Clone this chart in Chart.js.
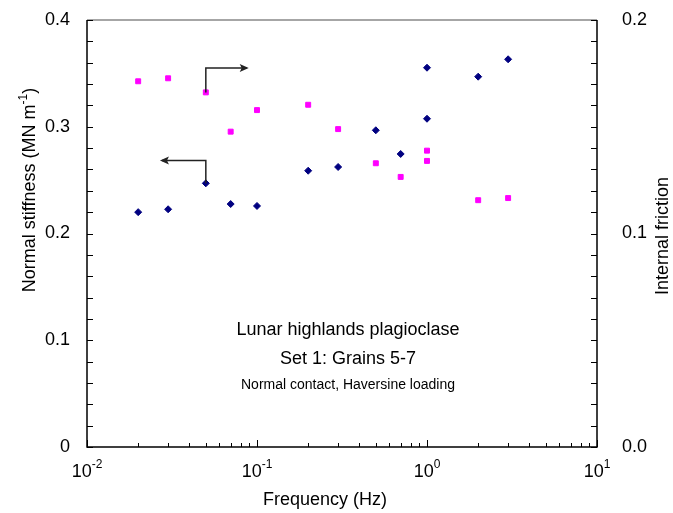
<!DOCTYPE html>
<html>
<head>
<meta charset="utf-8">
<script src="https://cdn.jsdelivr.net/npm/chart.js@4.4.0/dist/chart.umd.min.js"></script>
<style>
  html, body { margin: 0; padding: 0; background: #fff; }
  #wrap { width: 673px; height: 513px; position: relative; }
</style>
</head>
<body>
<div id="wrap"><canvas id="chart"></canvas></div>
<script>
// frequency (Hz) for each measurement
const freqStiff = [0.02, 0.03, 0.05, 0.07, 0.1, 0.2, 0.3, 0.5, 0.7, 1, 1, 2, 3];
const stiffness = [0.220, 0.2227, 0.247, 0.2276, 0.2258, 0.2588, 0.2623, 0.2967, 0.2745, 0.3553, 0.3075, 0.3469, 0.3632];

const freqFric = [0.02, 0.03, 0.05, 0.07, 0.1, 0.2, 0.3, 0.5, 0.7, 1, 1, 2, 3];
const friction = [0.1713, 0.1727, 0.1661, 0.1477, 0.1578, 0.1603, 0.1489, 0.1329, 0.1265, 0.1388, 0.1340, 0.1156, 0.1166];

const leftTicks = ['0', '0.1', '0.2', '0.3', '0.4'];
const rightTicks = ['0.0', '0.1', '0.2'];
const xExponents = [-2, -1, 0, 1];

const noteLines = ['Lunar highlands plagioclase', 'Set 1: Grains 5-7', 'Normal contact, Haversine loading'];

// arrows telling which axis each series belongs to: [x0, yStart, yTurn, xEnd, axis]
const arrows = [
  [0.05, 0.1661, 0.1775, 0.087, 'y2'],
  [0.05, 0.247, 0.2685, 0.0276, 'y']
];

function toPoints(xs, ys) {
  return xs.map((x, i) => ({ x: x, y: ys[i] }));
}

const FONT = '"Liberation Sans", Arial, sans-serif';

const axisPlugin = {
  id: 'axisDecor',
  afterDraw(chart) {
    const ctx = chart.ctx;
    const a = chart.chartArea;
    const sx = chart.scales.x, sy = chart.scales.y, sy2 = chart.scales.y2;
    ctx.save();

    // frame
    ctx.lineWidth = 1.5;
    ctx.strokeStyle = '#888';
    ctx.beginPath();
    ctx.moveTo(a.left, a.top); ctx.lineTo(a.right, a.top);
    ctx.stroke();
    ctx.strokeStyle = '#000';
    ctx.beginPath();
    ctx.moveTo(a.left, a.top); ctx.lineTo(a.left, a.bottom); ctx.lineTo(a.right, a.bottom); ctx.lineTo(a.right, a.top);
    ctx.stroke();

    // inward ticks
    ctx.lineWidth = 1;
    ctx.beginPath();
    for (let i = 0; i <= 20; i++) {
      const py = Math.round(sy.getPixelForValue(i * 0.02)) + 0.5;
      ctx.moveTo(a.left, py); ctx.lineTo(a.left + 6, py);
    }
    for (let i = 0; i <= 20; i++) {
      const py = Math.round(sy2.getPixelForValue(i * 0.01)) + 0.5;
      ctx.moveTo(a.right, py); ctx.lineTo(a.right - 6, py);
    }
    for (let e = -2; e < 1; e++) {
      for (let m = 1; m <= 10; m++) {
        const px = Math.round(sx.getPixelForValue(m * Math.pow(10, e))) + 0.5;
        const len = (m === 1 || m === 10) ? 7 : 4;
        ctx.moveTo(px, a.bottom); ctx.lineTo(px, a.bottom - len);
      }
    }
    ctx.stroke();

    // tick labels
    ctx.fillStyle = '#000';
    ctx.font = '18px ' + FONT;
    ctx.textBaseline = 'middle';
    ctx.textAlign = 'right';
    leftTicks.forEach(t => ctx.fillText(t, a.left - 17, sy.getPixelForValue(parseFloat(t))));
    ctx.textAlign = 'left';
    rightTicks.forEach(t => ctx.fillText(t, a.right + 25, sy2.getPixelForValue(parseFloat(t))));

    xExponents.forEach(e => {
      const px = sx.getPixelForValue(Math.pow(10, e));
      ctx.font = '18px ' + FONT;
      const w1 = ctx.measureText('10').width;
      ctx.font = '12px ' + FONT;
      const sup = String(e);
      const w2 = ctx.measureText(sup).width;
      const x0 = px - (w1 + w2) / 2;
      ctx.textAlign = 'left';
      ctx.textBaseline = 'alphabetic';
      ctx.font = '18px ' + FONT;
      ctx.fillText('10', x0, a.bottom + 30);
      ctx.font = '12px ' + FONT;
      ctx.fillText(sup, x0 + w1, a.bottom + 21);
    });

    // axis titles
    ctx.font = '18px ' + FONT;
    ctx.textAlign = 'center';
    ctx.textBaseline = 'alphabetic';
    ctx.fillText('Frequency (Hz)', (a.left + a.right) / 2 - 17, a.bottom + 58);

    ctx.save();
    ctx.translate(35, 190);
    ctx.rotate(-Math.PI / 2);
    const t1 = 'Normal stiffness (MN m';
    const wA = ctx.measureText(t1).width;
    ctx.font = '12px ' + FONT;
    const wS = ctx.measureText('-1').width;
    ctx.font = '18px ' + FONT;
    const wC = ctx.measureText(')').width;
    const x0 = -(wA + wS + wC) / 2;
    ctx.textAlign = 'left';
    ctx.fillText(t1, x0, 0);
    ctx.font = '12px ' + FONT;
    ctx.fillText('-1', x0 + wA, -8);
    ctx.font = '18px ' + FONT;
    ctx.fillText(')', x0 + wA + wS, 0);
    ctx.restore();

    ctx.save();
    ctx.translate(668, 236);
    ctx.rotate(-Math.PI / 2);
    ctx.textAlign = 'center';
    ctx.fillText('Internal friction', 0, 0);
    ctx.restore();

    // note text
    const cx = (a.left + a.right) / 2 + 6;
    ctx.textAlign = 'center';
    ctx.textBaseline = 'middle';
    ctx.font = '18px ' + FONT;
    ctx.fillText(noteLines[0], cx, 330);
    ctx.fillText(noteLines[1], cx, 359);
    ctx.font = '14px ' + FONT;
    ctx.fillText(noteLines[2], cx, 385);

    // arrows
    ctx.strokeStyle = '#222';
    ctx.fillStyle = '#222';
    ctx.lineWidth = 1.5;
    arrows.forEach(ar => {
      const ys = chart.scales[ar[4]];
      const px = sx.getPixelForValue(ar[0]);
      const p1 = ys.getPixelForValue(ar[1]);
      const p2 = ys.getPixelForValue(ar[2]);
      const pe = sx.getPixelForValue(ar[3]);
      ctx.beginPath();
      ctx.moveTo(px, p1); ctx.lineTo(px, p2); ctx.lineTo(pe, p2);
      ctx.stroke();
      const dir = pe > px ? 1 : -1;
      ctx.beginPath();
      ctx.moveTo(pe + dir * 2, p2);
      ctx.lineTo(pe - dir * 7, p2 - 4);
      ctx.lineTo(pe - dir * 5, p2);
      ctx.lineTo(pe - dir * 7, p2 + 4);
      ctx.closePath();
      ctx.fill();
    });

    ctx.restore();
  }
};

new Chart(document.getElementById('chart'), {
  type: 'scatter',
  data: {
    datasets: [
      {
        label: 'Normal stiffness',
        data: toPoints(freqStiff, stiffness),
        yAxisID: 'y',
        pointStyle: 'rectRot',
        pointRadius: 3.5,
        backgroundColor: '#000080',
        borderColor: '#000080',
        borderWidth: 1
      },
      {
        label: 'Internal friction',
        data: toPoints(freqFric, friction),
        yAxisID: 'y2',
        pointStyle: 'rect',
        pointRadius: 3.5,
        backgroundColor: '#ff00ff',
        borderColor: '#ff00ff',
        borderWidth: 1
      }
    ]
  },
  options: {
    responsive: true,
    maintainAspectRatio: false,
    animation: false,
    layout: { padding: { top: 20, left: 0, right: 0, bottom: 0 } },
    plugins: { legend: { display: false }, tooltip: { enabled: false } },
    scales: {
      x: {
        type: 'logarithmic',
        min: 0.01,
        max: 10,
        grid: { display: false, drawTicks: false },
        border: { display: false },
        ticks: { display: false },
        afterFit(s) { s.height = 66; }
      },
      y: {
        position: 'left',
        min: 0,
        max: 0.4,
        grid: { display: false, drawTicks: false },
        border: { display: false },
        ticks: { display: false },
        afterFit(s) { s.width = 87; }
      },
      y2: {
        position: 'right',
        min: 0,
        max: 0.2,
        grid: { display: false, drawTicks: false },
        border: { display: false },
        ticks: { display: false },
        afterFit(s) { s.width = 76; }
      }
    }
  },
  plugins: [axisPlugin]
});
</script>
</body>
</html>
